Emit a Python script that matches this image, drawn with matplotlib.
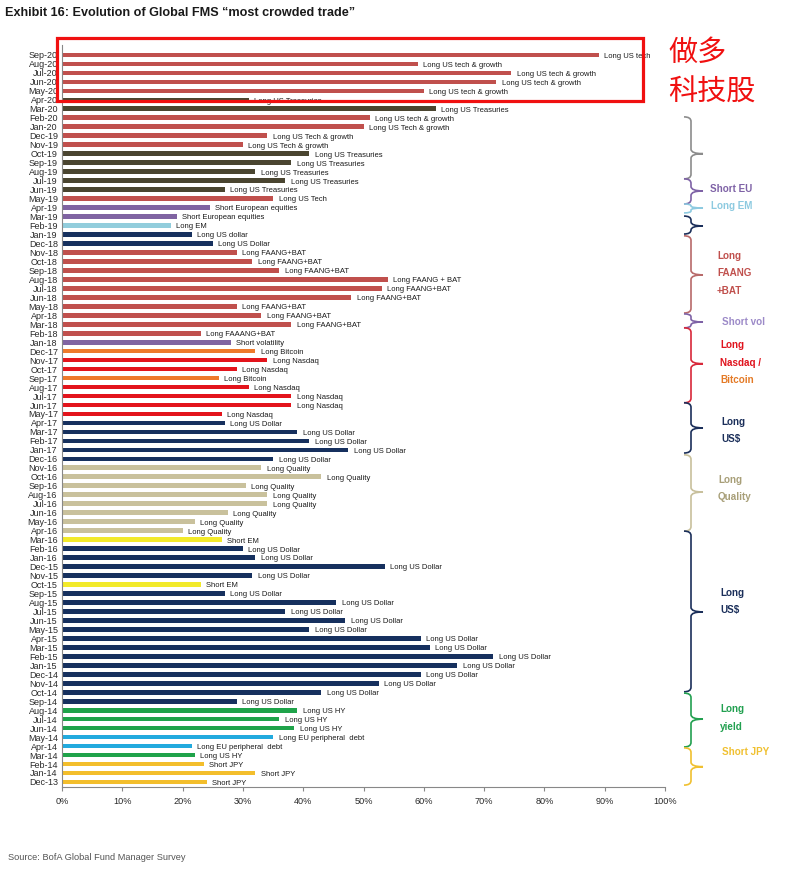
import matplotlib
matplotlib.use("Agg")
import matplotlib.pyplot as plt
import matplotlib.transforms as mtransforms
from matplotlib.path import Path
from matplotlib.patches import PathPatch, Rectangle

# Most crowded trade per month, newest first
months = [
    "Sep-20", "Aug-20", "Jul-20", "Jun-20", "May-20", "Apr-20", "Mar-20", "Feb-20", "Jan-20",
    "Dec-19", "Nov-19", "Oct-19", "Sep-19", "Aug-19", "Jul-19", "Jun-19", "May-19", "Apr-19", "Mar-19", "Feb-19", "Jan-19",
    "Dec-18", "Nov-18", "Oct-18", "Sep-18", "Aug-18", "Jul-18", "Jun-18", "May-18", "Apr-18", "Mar-18", "Feb-18", "Jan-18",
    "Dec-17", "Nov-17", "Oct-17", "Sep-17", "Aug-17", "Jul-17", "Jun-17", "May-17", "Apr-17", "Mar-17", "Feb-17", "Jan-17",
    "Dec-16", "Nov-16", "Oct-16", "Sep-16", "Aug-16", "Jul-16", "Jun-16", "May-16", "Apr-16", "Mar-16", "Feb-16", "Jan-16",
    "Dec-15", "Nov-15", "Oct-15", "Sep-15", "Aug-15", "Jul-15", "Jun-15", "May-15", "Apr-15", "Mar-15", "Feb-15", "Jan-15",
    "Dec-14", "Nov-14", "Oct-14", "Sep-14", "Aug-14", "Jul-14", "Jun-14", "May-14", "Apr-14", "Mar-14", "Feb-14", "Jan-14",
    "Dec-13",
]

values = [
    89, 59, 74.5, 72, 60, 31, 62, 51, 50,
    34, 30, 41, 38, 32, 37, 27, 35, 24.5, 19, 18, 21.5,
    25, 29, 31.5, 36, 54, 53, 48, 29, 33, 38, 23, 28,
    32, 34, 29, 26, 31, 38, 38, 26.5, 27, 39, 41, 47.5,
    35, 33, 43, 30.5, 34, 34, 27.5, 22, 20, 26.5, 30, 32,
    53.5, 31.5, 23, 27, 45.5, 37, 47, 41, 59.5, 61, 71.5, 65.5,
    59.5, 52.5, 43, 29, 39, 36, 38.5, 35, 21.5, 22, 23.5, 32,
    24,
]

trades = (
    ["Long US tech"] + ["Long US tech & growth"] * 4 + ["Long US Treasuries"] * 2
    + ["Long US tech & growth"] + ["Long US Tech & growth"] * 3 + ["Long US Treasuries"] * 5
    + ["Long US Tech"] + ["Short European equities"] * 2 + ["Long EM", "Long US dollar", "Long US Dollar"]
    + ["Long FAANG+BAT"] * 3 + ["Long FAANG + BAT"] + ["Long FAANG+BAT"] * 5
    + ["Long FAAANG+BAT", "Short volatility", "Long Bitcoin", "Long Nasdaq", "Long Nasdaq", "Long Bitcoin"]
    + ["Long Nasdaq"] * 4 + ["Long US Dollar"] * 5 + ["Long Quality"] * 8 + ["Short EM"]
    + ["Long US Dollar"] * 4 + ["Short EM"] + ["Long US Dollar"] * 13
    + ["Long US HY"] * 3 + ["Long EU peripheral  debt"] * 2 + ["Long US HY"] + ["Short JPY"] * 4
)

trade_colors = {
    "long us tech": "#C0504D",
    "long us tech & growth": "#C0504D",
    "long us treasuries": "#4A4530",
    "short european equities": "#8064A2",
    "long em": "#92CDDC",
    "long us dollar": "#16305E",
    "long faang+bat": "#C0504D",
    "long faang + bat": "#C0504D",
    "long faaang+bat": "#C0504D",
    "short volatility": "#8064A2",
    "long bitcoin": "#EE7A2C",
    "long nasdaq": "#E3141C",
    "long quality": "#C9C19C",
    "short em": "#F2EA2A",
    "long us hy": "#1FA34A",
    "long eu peripheral  debt": "#22AADE",
    "short jpy": "#F3BE2C",
}

# right-hand group braces (top, cusp, bottom in month rows), label lines, label centre row, label x px
braces = [
    (6.9, 11.0, 13.8, "#8C8C8C", [], 0, 0),
    (13.8, 15.15, 16.6, "#7E62A6", [("Short EU", "#7E62A6")], 14.9, 710),
    (16.6, 17.05, 17.6, "#8DCAE0", [("Long EM", "#8DCAE0")], 16.8, 711),
    (17.95, 19.05, 19.95, "#1B2F5A", [], 0, 0),
    (20.15, 24.5, 28.75, "#B86A6A", [("Long", "#C0504D"), ("FAANG", "#C0504D"), ("+BAT", "#C0504D")], 24.3, 717),
    (28.85, 29.75, 30.4, "#7E62A6", [("Short vol", "#9C8AC8")], 29.75, 722),
    (30.4, 34.4, 38.75, "#D8283A", [("Long", "#E0141E"), ("Nasdaq /", "#E0141E"), ("Bitcoin", "#E47A26")], 34.3, 720),
    (38.75, 41.55, 44.35, "#1B2F5A", [("Long", "#1B2F5A"), ("US$", "#1B2F5A")], 41.85, 721),
    (44.55, 48.7, 53.05, "#C8C09C", [("Long", "#A89F78"), ("Quality", "#A89F78")], 48.3, 718),
    (53.05, 62.05, 70.95, "#1B2F5A", [("Long", "#1B2F5A"), ("US$", "#1B2F5A")], 60.9, 720),
    (71.1, 74.0, 77.1, "#22A050", [("Long", "#22A050"), ("yield", "#22A050")], 73.9, 720),
    (77.2, 79.3, 81.35, "#F0C030", [("Short JPY", "#F0C030")], 77.65, 722),
]

font = "Liberation Sans"

W, H = 800, 872
fig = plt.figure(figsize=(W / 100, H / 100), dpi=100)
ax = fig.add_axes([62 / W, 85 / H, 603 / W, 742 / H])

rows = list(range(len(months)))
colors = [trade_colors[t.lower()] for t in trades]
ax.barh(rows, values, height=0.52, color=colors)
ax.set_ylim(81.56, -1.11)
ax.set_xlim(0, 100)

for i, (v, t) in enumerate(zip(values, trades)):
    ax.annotate(t, (v, i), xytext=(4, -1), textcoords="offset points",
                va="center", ha="left", fontsize=5.5, family=font, color="#1a1a1a")

ax.set_yticks(rows)
ax.set_yticklabels(months, fontsize=6.5, family=font, color="#2a2a2a")
ax.set_xticks(range(0, 101, 10))
ax.set_xticklabels([f"{p}%" for p in range(0, 101, 10)], fontsize=6.6, family=font, color="#2a2a2a")
ax.tick_params(axis="y", length=0, pad=3)
ax.tick_params(axis="x", length=3, color="#888888", pad=4)
for side in ["top", "right"]:
    ax.spines[side].set_visible(False)
for side in ["left", "bottom"]:
    ax.spines[side].set_color("#888888")
    ax.spines[side].set_linewidth(0.8)

# pixel coordinates measured from the top-left corner
px = mtransforms.Affine2D().scale(1 / 100).scale(1, -1).translate(0, H / 100) + fig.dpi_scale_trans
brace_tr = mtransforms.blended_transform_factory(px, ax.transData)

s, h, c = 691, 7, 12
for top, mid, bot, col, lines, lab_y, lab_x in braces:
    r = min(0.5, (mid - top) / 2, (bot - mid) / 2)
    verts = [(s - h, top), (s, top), (s, top + r), (s, mid - r), (s, mid), (s + c, mid),
             (s, mid), (s, mid + r), (s, bot - r), (s, bot), (s - h, bot)]
    codes = [Path.MOVETO, Path.CURVE3, Path.CURVE3, Path.LINETO, Path.CURVE3, Path.CURVE3,
             Path.CURVE3, Path.CURVE3, Path.LINETO, Path.CURVE3, Path.CURVE3]
    fig.add_artist(PathPatch(Path(verts, codes), transform=brace_tr, fill=False,
                             edgecolor=col, lw=1.2, clip_on=False))
    n = len(lines)
    for j, (txt, tc) in enumerate(lines):
        fig.text(lab_x, lab_y + (j - (n - 1) / 2) * 1.95, txt, transform=brace_tr,
                 fontsize=7.1, family=font, weight="bold", color=tc, va="center", ha="left")

# highlight box around the 2020 tech trades
fig.add_artist(Rectangle((57, 38), 586, 63, transform=px, fill=False,
                         edgecolor="#F01010", lw=2.3, clip_on=False))
fig.text(668, 53, "做多", transform=px, fontsize=21, color="#F01010",
         family=["Noto Sans CJK SC", "DejaVu Sans"], va="center", ha="left")
fig.text(668, 93, "科技股", transform=px, fontsize=21, color="#F01010",
         family=["Noto Sans CJK SC", "DejaVu Sans"], va="center", ha="left")

fig.text(5, 13, "Exhibit 16: Evolution of Global FMS \u201cmost crowded trade\u201d", transform=px,
         fontsize=9.1, family=font, weight="bold", color="#1a1a1a", va="center", ha="left")
fig.text(8, 858, "Source: BofA Global Fund Manager Survey", transform=px,
         fontsize=6.7, family=font, color="#555555", va="center", ha="left")

fig.savefig("out.png", dpi=100)
